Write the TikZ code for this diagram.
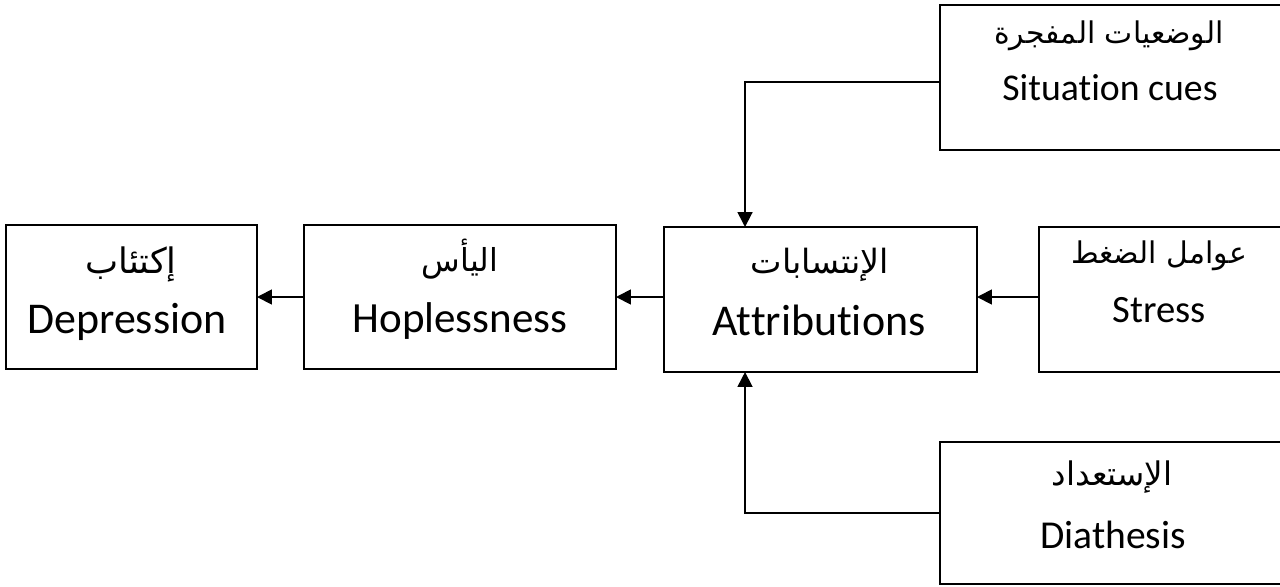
\documentclass[tikz,border=0pt]{standalone}
\usepackage{fontspec}
\setmainfont[Ligatures=NoCommon]{Carlito}
\newfontfamily\arabicfont[Script=Arabic]{DejaVu Sans}
\TeXXeTstate=1
\usetikzlibrary{arrows.meta}
\newcommand{\enfs}[1]{\fontsize{#1}{#1}\selectfont}
\newcommand{\arfs}[1]{\arabicfont\fontsize{#1}{#1}\selectfont}
\begin{document}
\begin{tikzpicture}[x=0.02cm,y=-0.02cm,
  box/.style={draw, line width=1.1pt, inner sep=0pt, outer sep=0pt},
  en/.style={anchor=base, inner sep=0pt},
  ar/.style={anchor=base, inner sep=0pt},
  arr/.style={line width=1pt, -{Triangle[length=8.5pt,width=8.5pt]}}]
\useasboundingbox (0,0) rectangle (1280,586);
\clip (0,0) rectangle (1280,586);
% boxes
\node[box, minimum width=5.02cm, minimum height=2.88cm] (dep) at (131.5,297) {};
\node[box, minimum width=6.24cm, minimum height=2.88cm] (hop) at (460,297) {};
\node[box, minimum width=6.26cm, minimum height=2.90cm] (att) at (820.5,299.5) {};
\node[box, minimum width=4.90cm, minimum height=2.90cm] (str) at (1161.5,299.5) {};
\node[box, minimum width=6.88cm, minimum height=2.90cm] (sit) at (1112,77.5) {};
\node[box, minimum width=6.90cm, minimum height=2.84cm] (dia) at (1112,513) {};
% texts
\node[ar, font=\arfs{20}] (dep-ar) at (131,273) {\beginR إكتئاب\endR};
\node[en, font=\enfs{25}] (dep-en) at (127,333) {Depression};
\node[ar, font=\arfs{18}] (hop-ar) at (460,271) {\beginR اليأس\endR};
\node[en, font=\enfs{24.5}] (hop-en) at (460,332) {Hoplessness};
\node[ar, font=\arfs{19}] (att-ar) at (820,273) {\beginR الإنتسابات\endR};
\node[en, font=\enfs{25}] (att-en) at (819,335) {Attributions};
\node[ar, font=\arfs{17}] (str-ar) at (1159,263) {\beginR عوامل الضغط\endR};
\node[en, font=\enfs{22}] (str-en) at (1159,322) {Stress};
\node[ar, font=\arfs{17}] (sit-ar) at (1109,43) {\beginR الوضعيات المفجرة\endR};
\node[en, font=\enfs{21.5}] (sit-en) at (1110,100) {Situation cues};
\node[ar, font=\arfs{18.5}] (dia-ar) at (1112,485) {\beginR الإستعداد\endR};
\node[en, font=\enfs{22.5}] (dia-en) at (1113,548) {Diathesis};
% connectors
\draw[arr] ([yshift=-0.09cm]sit.west) -| ([xshift=-1.51cm]att.north);
\draw[arr] (dia.west) -| ([xshift=-1.51cm]att.south);
\draw[arr] (str.west |- hop.west) -- (att.east |- hop.west);
\draw[arr] (att.west |- hop.west) -- (hop.east);
\draw[arr] (hop.west) -- (dep.east);
\end{tikzpicture}
\end{document}
